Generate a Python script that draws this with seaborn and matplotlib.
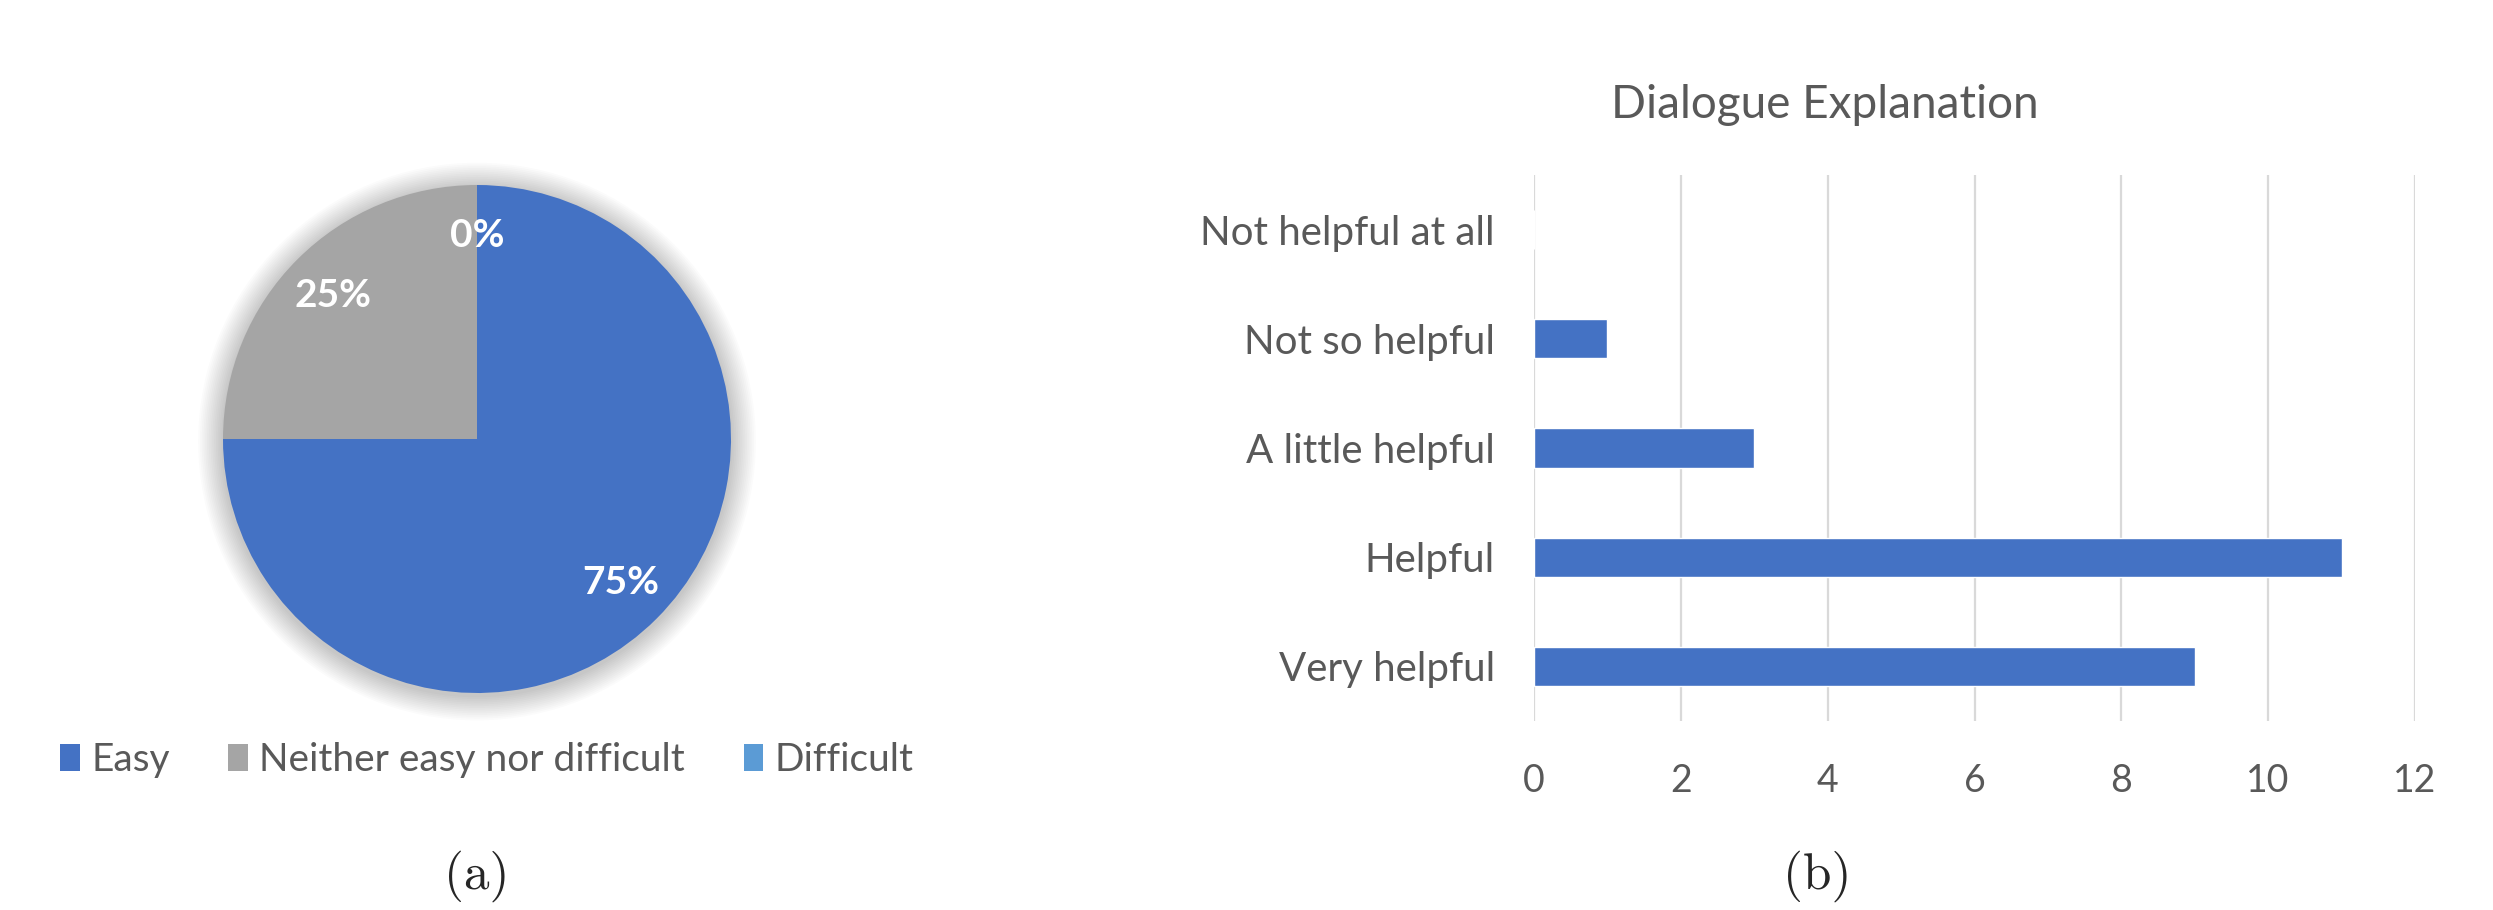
import matplotlib
matplotlib.use("Agg")
import matplotlib.pyplot as plt
from matplotlib.patches import Circle, Patch
import seaborn as sns
import pandas as pd

# ---- data ----
pie_labels = ["Easy", "Neither easy nor difficult", "Difficult"]
pie_values = [75, 25, 0]
pie_colors = ["#4472C4", "#A5A5A5", "#5B9BD5"]

bar_categories = ["Not helpful at all", "Not so helpful", "A little helpful", "Helpful", "Very helpful"]
bar_values = [0, 1, 3, 11, 9]
bar_title = "Dialogue Explanation"
x_ticks = [0, 2, 4, 6, 8, 10, 12]

sns.set_theme(style="white")
plt.rcParams["font.family"] = ["Lato", "DejaVu Sans"]
text_grey = "#595959"

W, H = 2493, 910
fig = plt.figure(figsize=(W / 100, H / 100), dpi=100)

# ---- pie (a) ----
cx, cy, r = 477, 439, 254
ax1 = fig.add_axes([(cx - r) / W, (H - cy - r) / H, 2 * r / W, 2 * r / H])
# soft shadow
for i in range(14):
    ax1.add_patch(Circle((0.0, -0.01), 1.0 + 0.007 * (14 - i), color="black",
                         alpha=0.016, lw=0, zorder=0, clip_on=False))
wedges, texts, autotexts = ax1.pie(
    pie_values, colors=pie_colors, startangle=90, counterclock=False,
    autopct=lambda p: f"{p:.0f}%", pctdistance=0.80, radius=1.0,
    textprops=dict(color="white", fontsize=28, fontweight="bold"),
    wedgeprops=dict(linewidth=0))
for w in wedges:
    w.set_zorder(2)
for t in autotexts:
    t.set_zorder(3)
ax1.set_xlim(-1, 1)
ax1.set_ylim(-1, 1)
ax1.set_aspect("equal")
ax1.axis("off")

handles = [Patch(facecolor=c, edgecolor="none") for c in pie_colors]
fig.legend(handles, pie_labels, loc="center", bbox_to_anchor=(487 / W, 1 - 760 / H),
           ncol=3, frameon=False, fontsize=28, labelcolor=text_grey,
           handlelength=0.5, handleheight=0.7, handletextpad=0.3, columnspacing=1.5)

# ---- bar (b) ----
x0, x1, ytop, ybot = 1534, 2415, 175, 721
ax2 = fig.add_axes([x0 / W, (H - ybot) / H, (x1 - x0) / W, (ybot - ytop) / H])
df = pd.DataFrame({"category": bar_categories, "value": bar_values})
sns.barplot(data=df, y="category", x="value", orient="h", color="#4472C4",
            saturation=1, width=0.36, ax=ax2, zorder=3)
ax2.set_xlim(0, 12)
ax2.set_ylim(len(bar_categories) - 0.5, -0.5)
ax2.set_xticks(x_ticks)
ax2.set_xticklabels([str(v) for v in x_ticks])
ax2.grid(axis="x", color="#D9D9D9", linewidth=1.6, zorder=0)
ax2.grid(axis="y", visible=False)
for s in ax2.spines.values():
    s.set_visible(False)
ax2.set_xlabel("")
ax2.set_ylabel("")
ax2.tick_params(axis="x", length=0, pad=30, labelsize=27, labelcolor=text_grey)
ax2.tick_params(axis="y", length=0, pad=28, labelsize=29, labelcolor=text_grey)
ax2.set_title(bar_title, fontsize=33, color=text_grey, pad=41,
              x=(1825 - x0) / (x1 - x0), ha="center")

# ---- captions ----
fig.text(477 / W, 1 - 876 / H, "(a)", family="cmr10", fontsize=37, ha="center", va="center")
fig.text(1817 / W, 1 - 876 / H, "(b)", family="cmr10", fontsize=37, ha="center", va="center")

fig.savefig("out.png", dpi=100, facecolor="white")
